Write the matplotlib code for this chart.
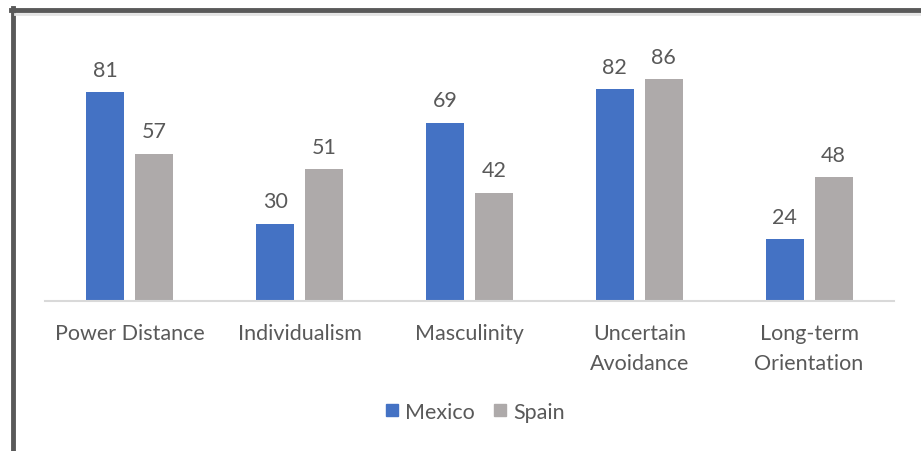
import numpy as np
import matplotlib
matplotlib.use('Agg')
from matplotlib import pyplot as plt
from matplotlib.lines import Line2D

categories = ['Power Distance', 'Individualism', 'Masculinity', 'Uncertain\nAvoidance', 'Long-term\nOrientation']
mexico = [81, 30, 69, 82, 24]
spain = [57, 51, 42, 86, 48]
series_names = ['Mexico', 'Spain']

plt.rcParams['font.family'] = ['Lato', 'DejaVu Sans']
TXT = '#595959'
BLUE = '#4472C4'
GRAY = '#AEAAAA'
FS = 15.5

fig = plt.figure(figsize=(9.21, 4.52), dpi=100)
W, H = 921, 452
ax = fig.add_axes([45 / W, 1 - 302 / H, (894 - 45) / W, (302 - 44) / H])

x = np.arange(len(categories))
bw = 0.224
off = 0.144
b1 = ax.bar(x - off, mexico, bw, color=BLUE)
b2 = ax.bar(x + off, spain, bw, color=GRAY)
for bars, vals in ((b1, mexico), (b2, spain)):
	for r, v in zip(bars, vals):
		ax.annotate(str(v), (r.get_x() + r.get_width() / 2, v), xytext=(0, 9),
					textcoords='offset points', ha='center', va='bottom',
					fontsize=FS, color=TXT)

ax.set_xlim(-0.5, len(categories) - 0.5)
ax.set_ylim(0, 100)
ax.set_yticks([])
ax.set_xticks(x)
ax.set_xticklabels(categories, fontsize=FS, color=TXT, linespacing=1.6)
ax.tick_params(axis='x', length=0, pad=16)
for s in ('top', 'right', 'left'):
	ax.spines[s].set_visible(False)
ax.spines['bottom'].set_color('#D9D9D9')
ax.spines['bottom'].set_linewidth(1.5)

handles = [Line2D([], [], marker='s', ls='', color=c, markersize=9) for c in (BLUE, GRAY)]
fig.legend(handles, series_names, loc='center', bbox_to_anchor=(473 / W, 1 - 413 / H),
		   ncol=2, frameon=False, fontsize=FS, labelcolor=TXT,
		   handletextpad=0.1, columnspacing=0.7, handlelength=1.0)

# frame around the chart (cropped screenshot)
fig.add_artist(Line2D([13 / W, 13 / W], [0, 1 - 9 / H], color='#595959', lw=3.5, transform=fig.transFigure))
fig.add_artist(Line2D([11 / W, 1], [1 - 11 / H, 1 - 11 / H], color='#595959', lw=3.5, transform=fig.transFigure))
fig.add_artist(Line2D([15 / W, 1], [1 - 14.5 / H, 1 - 14.5 / H], color='#E3E3E3', lw=2, transform=fig.transFigure))

fig.savefig('out.png', dpi=100)
